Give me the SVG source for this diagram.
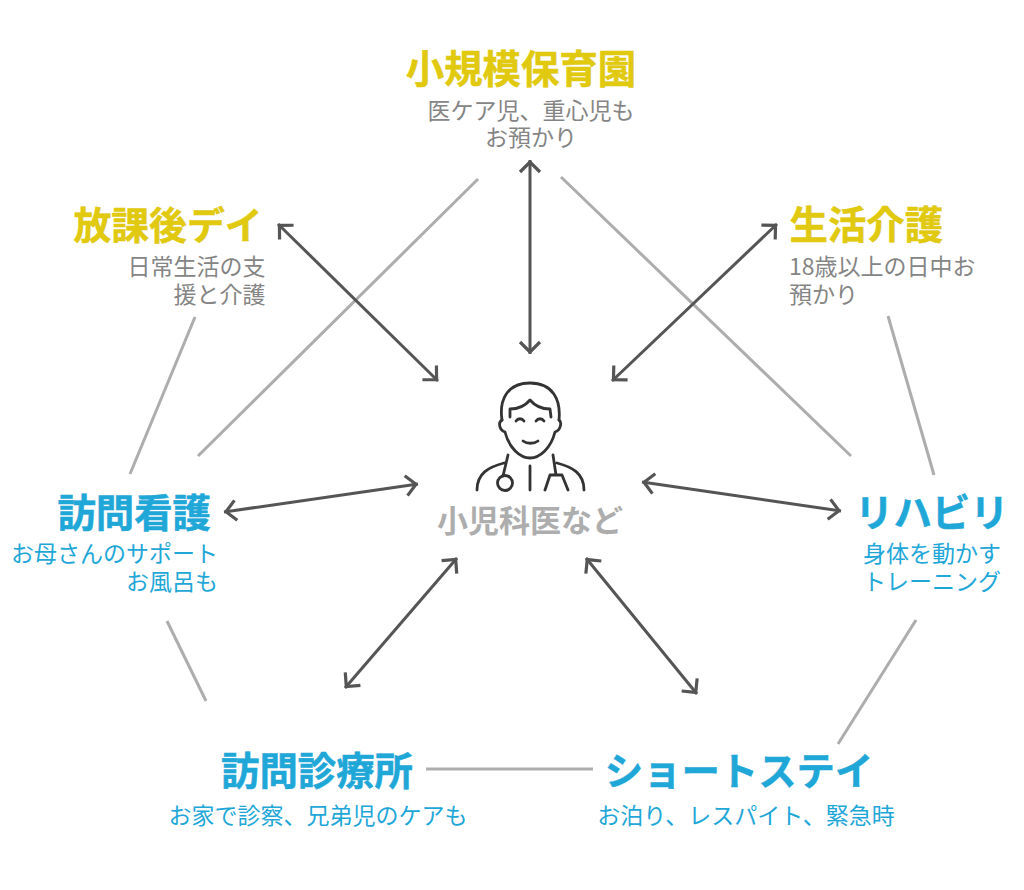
<svg xmlns="http://www.w3.org/2000/svg" width="1024" height="890" viewBox="0 0 1024 890">
<style>
text{font-family:"Noto Sans CJK JP","Noto Sans",sans-serif}
.t{font-size:38.400px;font-weight:700;stroke-width:.5}
.s{font-size:23px}
.y{fill:#e0c90f;stroke:#e0c90f}.b{fill:#1fa7d8;stroke:#1fa7d8}.g{fill:#858585}
.s.b{stroke:none}
.m{text-anchor:middle}.e{text-anchor:end}
.l{stroke:#adadad;stroke-width:3;fill:none}
.a{stroke:#555;stroke-width:3;fill:none;marker-start:url(#h);marker-end:url(#h)}
.i{stroke:#333;stroke-width:2.800;fill:none;stroke-linecap:round;stroke-linejoin:round}
</style>
<defs><marker id="h" viewBox="0 0 24 24" refX="22" refY="12" markerWidth="24" markerHeight="24" markerUnits="userSpaceOnUse" orient="auto-start-reverse"><path d="M10 2L20 12L10 22" fill="none" stroke="#555" stroke-width="3.200"/></marker></defs>
<rect width="1024" height="890" fill="#fff"/>
<g id="connectors">
<path class="l" d="M478 179L198 456"/>
<path class="l" d="M561 177L851 456"/>
<path class="l" d="M195 317L130 474"/>
<path class="l" d="M888 316L934 475"/>
<path class="l" d="M167 621L206 701"/>
<path class="l" d="M916 620L838 744"/>
<path class="l" d="M426 769L593 769"/>
<path class="a" d="M530 160L530 354"/>
<path class="a" d="M278 224L438 381"/>
<path class="a" d="M777 224L612 381"/>
<path class="a" d="M224 512L418 484"/>
<path class="a" d="M642 482L841 511"/>
<path class="a" d="M457 558L345 688"/>
<path class="a" d="M586 558L697 694"/>
</g>
<g id="center">
<path class="i" d="M502 420C499 400 507 383 530 383C553 383 561 400 559 420M510 417L510 409C518 409 525 406 530 400C535 406 542 409 550 409L551 417"/>
<path class="i" d="M502 420C498 422 499 430 505 432C509 448 520 458 530 458C540 458 551 448 555 432C561 430 562 422 559 420"/>
<path class="i" d="M516 421C518 418 522 418 524 421M536 421C538 418 542 418 544 421M523 441C527 444 534 444 538 441"/>
<path class="i" d="M477 490C477 473 489 467 504 463M508 455L503 476M584 490C584 473 572 467 557 463M553 455L556 475M545 490L550 475L562 475L568 490M530 466L530 490"/>
<circle class="i" cx="505" cy="483" r="7.500"/>
<text class="m" x="530" y="532" font-size="31" font-weight="700" fill="#adadad">小児科医など</text>
</g>
<g id="n1"><text class="t y m" x="521" y="82.500">小規模保育園</text><text class="s g m"><tspan x="531" y="119">医ケア児、重心児も</tspan><tspan x="531" y="146">お預かり</tspan></text></g>
<g id="n2"><text class="t y e" x="262.500" y="238.500" style="font-size:37.800px">放課後デイ</text><text class="s g e"><tspan x="265.500" y="275">日常生活の支</tspan><tspan x="265.500" y="303">援と介護</tspan></text></g>
<g id="n3"><text class="t y" x="789.500" y="238.500">生活介護</text><text class="s g"><tspan x="789" y="275">18歳以上の日中お</tspan><tspan x="789" y="303">預かり</tspan></text></g>
<g id="n4"><text class="t b e" x="211" y="526.500">訪問看護</text><text class="s b e"><tspan x="218" y="562">お母さんのサポート</tspan><tspan x="218" y="590">お風呂も</tspan></text></g>
<g id="n5"><text class="t b" x="855" y="526.500">リハビリ</text><text class="s b"><tspan x="863" y="562">身体を動かす</tspan><tspan x="863" y="590">トレーニング</tspan></text></g>
<g id="n6"><text class="t b m" x="317" y="784.500">訪問診療所</text><text class="s b m" x="318" y="824">お家で診察、兄弟児のケアも</text></g>
<g id="n7"><text class="t b m" x="739" y="784.500">ショートステイ</text><text class="s b m" x="746" y="824">お泊り、レスパイト、緊急時</text></g>
</svg>
